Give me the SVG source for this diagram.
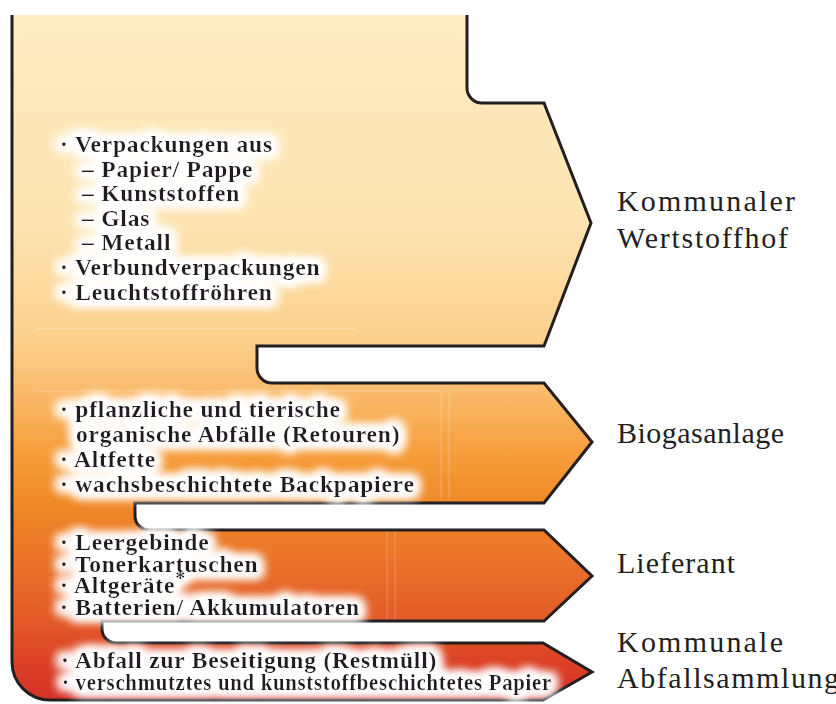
<svg xmlns="http://www.w3.org/2000/svg" width="836" height="704" viewBox="0 0 836 704">
<defs>
<linearGradient id="fillGrad" gradientUnits="userSpaceOnUse" x1="0" y1="15" x2="0" y2="700">
<stop offset="0" stop-color="#fdebc2"/>
<stop offset="0.30" stop-color="#fde4b2"/>
<stop offset="0.47" stop-color="#fcd18e"/>
<stop offset="0.55" stop-color="#fabb6c"/>
<stop offset="0.63" stop-color="#f6a140"/>
<stop offset="0.71" stop-color="#f08a27"/>
<stop offset="0.80" stop-color="#e9722a"/>
<stop offset="0.88" stop-color="#e35b28"/>
<stop offset="0.94" stop-color="#dc4326"/>
<stop offset="1" stop-color="#d53128"/>
</linearGradient>
<filter id="glow" x="-10%" y="-40%" width="120%" height="180%">
<feMorphology in="SourceAlpha" operator="dilate" radius="4" result="d"/>
<feGaussianBlur in="d" stdDeviation="5.5" result="b"/>
<feFlood flood-color="#ffffff" flood-opacity="1"/>
<feComposite in2="b" operator="in" result="g"/>
<feMerge><feMergeNode in="g"/><feMergeNode in="g"/><feMergeNode in="g"/><feMergeNode in="SourceGraphic"/></feMerge>
</filter>
<style>
.outline{fill:none;stroke:#231f20;stroke-width:3;stroke-linejoin:miter}
.item{font-family:"Liberation Serif","Times New Roman",serif;font-weight:bold;font-size:23.5px;letter-spacing:0.8px;fill:#231f20}
.label{font-family:"Liberation Serif","Times New Roman",serif;font-size:30px;fill:#231f20}
.guide{fill:none;stroke:#ffffff;stroke-opacity:0.25;stroke-width:1}
</style>
</defs>

<g id="connectors">
<path id="shape-fill" fill="url(#fillGrad)" d="M12,15 H467 V88 A15,15 0 0 0 482,103 H544 L591,223 L544,346 H257 V368 A15,15 0 0 0 272,383 H544 L592,442 L544,503 H135 V516 A14,14 0 0 0 149,530 H544 L592,576 L544,621 H102 V629 A14,14 0 0 0 116,643 H543 L592,672 L543,700 H50 A38,38 0 0 1 12,662 Z"/>
<path class="guide" d="M35,329 H357 M35,391 H441 V500 M449,391 V500 M387,530 V620 M395,530 V620"/>
<path class="outline" d="M467,15 V88 A15,15 0 0 0 482,103 H544 L591,223 L544,346 H257 V368 A15,15 0 0 0 272,383 H544 L592,442 L544,503 H135 V516 A14,14 0 0 0 149,530 H544 L592,576 L544,621 H102 V629 A14,14 0 0 0 116,643 H543 L592,672 L543,700 H50 A38,38 0 0 1 12,662 V15"/>
</g>

<g id="node-wertstoffhof">
<g filter="url(#glow)">
<text class="item" x="60" y="152">· Verpackungen aus</text>
<text class="item" x="82" y="177">– Papier/ Pappe</text>
<text class="item" x="82" y="201">– Kunststoffen</text>
<text class="item" x="82" y="226">– Glas</text>
<text class="item" x="82" y="250">– Metall</text>
<text class="item" x="60" y="275">· Verbundverpackungen</text>
<text class="item" x="60" y="300">· Leuchtstoffröhren</text>
</g>
<text class="label" x="617" y="211" textLength="178" lengthAdjust="spacing">Kommunaler</text>
<text class="label" x="617" y="248" textLength="171" lengthAdjust="spacing">Wertstoffhof</text>
</g>

<g id="node-biogas">
<g filter="url(#glow)">
<text class="item" x="60" y="417">· pflanzliche und tierische</text>
<text class="item" x="76" y="442">organische Abfälle (Retouren)</text>
<text class="item" x="60" y="467">· Altfette</text>
<text class="item" x="60" y="492">· wachsbeschichtete Backpapiere</text>
</g>
<text class="label" x="617" y="443" textLength="167" lengthAdjust="spacing">Biogasanlage</text>
</g>

<g id="node-lieferant">
<g filter="url(#glow)">
<text class="item" x="60" y="550">· Leergebinde</text>
<text class="item" x="60" y="572">· Tonerkartuschen</text>
<text class="item" x="60" y="593">· Altgeräte<tspan font-size="20" dy="-8">*</tspan></text>
<text class="item" x="60" y="615">· Batterien/ Akkumulatoren</text>
</g>
<text class="label" x="617" y="573" textLength="118" lengthAdjust="spacing">Lieferant</text>
</g>

<g id="node-abfallsammlung">
<g filter="url(#glow)">
<text class="item" x="61" y="668">· Abfall zur Beseitigung (Restmüll)</text>
<text class="item" x="62" y="690" textLength="490" lengthAdjust="spacingAndGlyphs">· verschmutztes und kunststoffbeschichtetes Papier</text>
</g>
<text class="label" x="617" y="652" textLength="166" lengthAdjust="spacing">Kommunale</text>
<text class="label" x="617" y="688" textLength="222" lengthAdjust="spacing">Abfallsammlung</text>
</g>
</svg>
